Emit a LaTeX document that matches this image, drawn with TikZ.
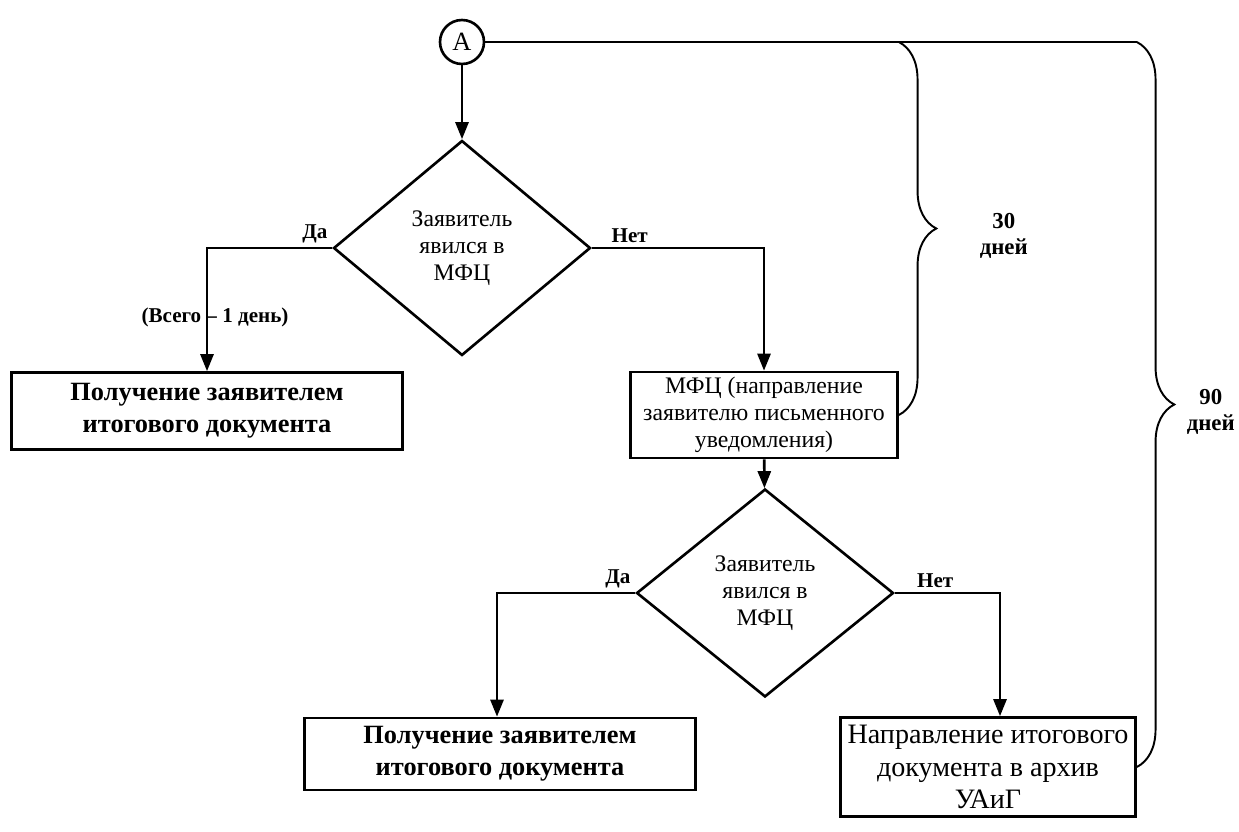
\documentclass[tikz,border=0pt]{standalone}
\usepackage{fontspec}
\setmainfont{Liberation Serif}
\usetikzlibrary{shapes.geometric, arrows.meta, positioning, decorations.pathreplacing}
\tikzstyle{onpage} = [circle, draw=black, line width=1.5pt, minimum size=0.88cm, inner sep=0pt, font=\fontsize{15}{18}\selectfont]
\tikzstyle{process} = [rectangle, draw=black, line width=1.5pt, text centered, align=center, inner sep=2pt]
\tikzstyle{decision} = [diamond, aspect=1.2, minimum width=5.14cm, minimum height=4.3cm, draw=black, line width=1.5pt, align=center, inner sep=0pt, font=\fontsize{13.5}{15.5}\selectfont]
\tikzstyle{connector} = [draw, line width=1.5pt, -{Triangle[length=0.34cm, width=0.26cm]}]
\tikzstyle{answer} = [font=\bfseries\fontsize{12}{14}\selectfont, inner sep=2pt]
\tikzstyle{period} = [draw, line width=1.1pt, decorate, decoration={brace, amplitude=0.75cm}]
\tikzstyle{days} = [font=\bfseries\fontsize{13}{15}\selectfont, align=center, inner sep=0pt]

\begin{document}
\begin{tikzpicture}[x=0.02cm, y=-0.02cm]
    \useasboundingbox (0,0) rectangle (1239,831);
    % Nodes
    \node [onpage] (conA) at (462,42) {A};
    \node [decision] (decision1) at (462,248) {Заявитель\\явился в\\МФЦ};
    \node [process, minimum width=7.82cm, minimum height=1.54cm, font=\bfseries\fontsize{15}{18}\selectfont] (getDoc1) at (207,411) {Получение заявителем\\итогового документа};
    \node [process, minimum width=5.34cm, minimum height=1.72cm, font=\fontsize{13.5}{15.5}\selectfont] (notify) at (764,415) {МФЦ (направление\\заявителю письменного\\уведомления)};
    \node [decision, minimum height=4.16cm] (decision2) at (765,593) {Заявитель\\явился в\\МФЦ};
    \node [process, minimum width=7.82cm, minimum height=1.44cm, font=\bfseries\fontsize{15}{18}\selectfont] (getDoc2) at (500,754) {Получение заявителем\\итогового документа};
    \node [process, minimum width=5.9cm, minimum height=1.98cm, font=\fontsize{16}{18.5}\selectfont] (archive) at (988,767) {Направление итогового\\документа в архив\\УАиГ};

    % Arrows
    \path [connector] (conA) -- (decision1);
    \path [connector] (decision1.west) node[answer, above left] {Да} -| node[answer, pos=0.78, xshift=0.16cm] {(Всего -- 1 день)} (getDoc1.north);
    \path [connector] (decision1.east) node[answer, above right, xshift=0.3cm] {Нет} -| (notify.north);
    \path [connector] (notify) -- (decision2);
    \path [connector] (decision2.west) node[answer, above left] {Да} -| ([xshift=-0.06cm]getDoc2.north);
    \path [connector] (decision2.east) node[answer, above right, xshift=0.35cm] {Нет} -| ([xshift=0.24cm]archive.north);

    % Periods
    \draw [line width=1.5pt] (conA) -- (archive.east |- conA);
    \draw [period] (notify.east |- conA) -- node[days, right=1.6cm, yshift=-0.15cm] {30\\дней} (notify.east);
    \draw [period] (archive.east |- conA) -- node[days, right=0.98cm, yshift=-0.15cm] {90\\дней} (archive.east);
\end{tikzpicture}
\end{document}
